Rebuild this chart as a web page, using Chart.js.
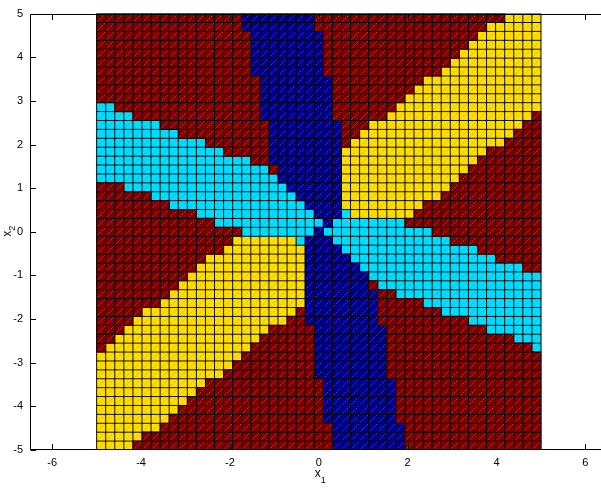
<!DOCTYPE html>
<html>
<head>
<meta charset="utf-8">
<script src="https://cdn.jsdelivr.net/npm/chart.js@4/dist/chart.umd.min.js"></script>
<style>
html,body{margin:0;padding:0;background:#fff;overflow:hidden;width:601px;height:488px;}
#wrap{position:relative;width:620px;height:488px;}
canvas{display:block;}
</style>
</head>
<body>
<div id="wrap"><canvas id="c" width="620" height="488"></canvas></div>
<script>
// ---- data ----
const classNames = ['R', 'B', 'C', 'Y'];            // dark red, navy, cyan, yellow
const classColors = ['#800000', '#00008f', '#00dfff', '#ffdf00'];
const xTickValues = [-6, -4, -2, 0, 2, 4, 6];
const yTickValues = [-5, -4, -3, -2, -1, 0, 1, 2, 3, 4, 5];
const gridLimits = [-5, 5];
const cellsPerSide = 49;
// class of each cell, row by row from the top (y = 5) down, as runs "<class><count>"
const rowRuns = [
  'R16 B8 R21 Y4',
  'R16 B8 R19 Y6',
  'R17 B8 R17 Y7',
  'R17 B8 R16 Y8',
  'R17 B8 R15 Y9',
  'R17 B8 R14 Y10',
  'R17 B8 R13 Y11',
  'R18 B8 R10 Y13',
  'R18 B8 R9 Y14',
  'R18 B8 R8 Y15',
  'C2 R16 B8 R7 Y16',
  'C4 R14 B8 R6 Y16 R1',
  'C7 R12 B8 R3 Y17 R2',
  'C9 R10 B8 R2 Y17 R3',
  'C12 R7 B8 R1 Y17 R4',
  'C14 R5 B8 Y16 R6',
  'C17 R2 B8 Y15 R7',
  'C19 R1 B7 Y14 R8',
  'C20 B7 Y13 R9',
  'R3 C18 B6 Y12 R10',
  'R6 C16 B5 Y11 R11',
  'R8 C15 B4 Y9 R13',
  'R11 C13 B3 C1 Y7 R14',
  'R13 C12 B1 C8 R15',
  'R16 C8 B1 C12 R12',
  'R15 Y7 C1 B3 C13 R10',
  'R14 Y9 B4 C15 R7',
  'R12 Y11 B5 C16 R5',
  'R11 Y12 B6 C18 R2',
  'R10 Y13 B7 C19',
  'R9 Y14 B7 R1 C18',
  'R8 Y15 B8 R2 C16',
  'R7 Y16 B8 R5 C13',
  'R5 Y17 R1 B8 R7 C11',
  'R4 Y17 R2 B8 R10 C8',
  'R3 Y16 R5 B8 R11 C6',
  'R2 Y16 R6 B8 R14 C3',
  'R1 Y16 R7 B8 R16 C1',
  'Y16 R8 B8 R17',
  'Y15 R9 B8 R17',
  'Y14 R10 B8 R17',
  'Y12 R13 B8 R16',
  'Y11 R14 B8 R16',
  'Y10 R15 B8 R16',
  'Y9 R16 B8 R16',
  'Y8 R17 B8 R16',
  'Y7 R19 B8 R15',
  'Y5 R21 B8 R15',
  'Y4 R22 B8 R15'
];

// ---- build cell table ----
const step = (gridLimits[1] - gridLimits[0]) / cellsPerSide;
const cellGrid = rowRuns.map(r => {
  const row = [];
  r.trim().split(/\s+/).forEach(tok => {
    const cls = tok[0], n = parseInt(tok.slice(1), 10);
    for (let k = 0; k < n; k++) row.push(cls);
  });
  return row;
});
const edgeX = i => gridLimits[0] + i * step;
const edgeY = j => gridLimits[1] - j * step;

const cellRadius = ctx => {
  const s = ctx.chart.scales.x;
  const px = Math.abs(s.getPixelForValue(step) - s.getPixelForValue(0));
  return (px / 2 + 0.5) / Math.SQRT1_2;
};

const datasets = classNames.map((cls, ci) => {
  const pts = [];
  cellGrid.forEach((row, j) => row.forEach((c, i) => {
    if (c === cls) pts.push({ x: edgeX(i) + step / 2, y: edgeY(j) - step / 2 });
  }));
  return {
    label: cls,
    data: pts,
    backgroundColor: classColors[ci],
    borderWidth: 0,
    pointStyle: 'rect',
    pointRadius: cellRadius,
    pointHoverRadius: cellRadius,
    showLine: false
  };
});

const diagColors = {
  R: 'rgba(255,140,140,0.55)',
  B: 'rgba(140,140,255,0.55)',
  C: 'rgba(0,60,80,0.25)',
  Y: 'rgba(90,60,0,0.25)'
};

const FONT = '"Liberation Sans", Arial, Helvetica, sans-serif';

const bgPlugin = {
  id: 'bg',
  beforeDraw(chart) {
    const ctx = chart.ctx;
    ctx.save();
    ctx.fillStyle = '#fff';
    ctx.fillRect(0, 0, chart.width, chart.height);
    ctx.restore();
  }
};

const meshPlugin = {
  id: 'mesh',
  afterDatasetsDraw(chart) {
    const { ctx, chartArea: a, scales: { x, y } } = chart;
    ctx.save();
    ctx.beginPath();
    ctx.rect(a.left, a.top, a.right - a.left, a.bottom - a.top);
    ctx.clip();
    ctx.lineWidth = 1;
    // diagonals "/" in every cell
    ctx.setLineDash([1.4, 1.2]);
    classNames.forEach(cls => {
      ctx.strokeStyle = diagColors[cls];
      ctx.beginPath();
      cellGrid.forEach((row, j) => row.forEach((c, i) => {
        if (c !== cls) return;
        ctx.moveTo(x.getPixelForValue(edgeX(i)), y.getPixelForValue(edgeY(j + 1)));
        ctx.lineTo(x.getPixelForValue(edgeX(i + 1)), y.getPixelForValue(edgeY(j)));
      }));
      ctx.stroke();
    });
    ctx.setLineDash([]);
    // cell edges
    ctx.strokeStyle = 'rgba(0,0,0,0.92)';
    ctx.beginPath();
    const yt = y.getPixelForValue(gridLimits[1]), yb = y.getPixelForValue(gridLimits[0]);
    const xl = x.getPixelForValue(gridLimits[0]), xr = x.getPixelForValue(gridLimits[1]);
    for (let i = 0; i <= cellsPerSide; i++) {
      const px = x.getPixelForValue(edgeX(i));
      ctx.moveTo(px, yt); ctx.lineTo(px, yb);
      const py = y.getPixelForValue(edgeY(i));
      ctx.moveTo(xl, py); ctx.lineTo(xr, py);
    }
    ctx.stroke();
    ctx.restore();
  },
  afterDraw(chart) {
    const { ctx, chartArea: a, scales: { x, y } } = chart;
    ctx.save();
    ctx.strokeStyle = '#000';
    ctx.lineWidth = 1;
    const L = Math.round(a.left) + 0.5, R = Math.round(a.right) + 0.5;
    const T = Math.round(a.top) + 0.5, B = Math.round(a.bottom) - 0.5;
    ctx.beginPath();
    ctx.rect(L, T, R - L, B - T);
    const tl = 5.5;
    xTickValues.forEach(v => {
      const px = Math.round(x.getPixelForValue(v)) + 0.5;
      ctx.moveTo(px, B); ctx.lineTo(px, B - tl);
      ctx.moveTo(px, T); ctx.lineTo(px, T + tl);
    });
    yTickValues.forEach(v => {
      const py = Math.round(y.getPixelForValue(v)) + 0.5;
      ctx.moveTo(L, py); ctx.lineTo(L + tl, py);
      ctx.moveTo(R, py); ctx.lineTo(R - tl, py);
    });
    ctx.stroke();
    // axis labels x1, x2
    ctx.fillStyle = '#000';
    ctx.textBaseline = 'alphabetic';
    ctx.textAlign = 'left';
    const cx = (a.left + a.right) / 2;
    ctx.font = '12px ' + FONT;
    ctx.fillText('x', cx - 4, 477);
    ctx.font = '9px ' + FONT;
    ctx.fillText('1', cx + 2, 483);
    ctx.save();
    ctx.translate(11, (a.top + a.bottom) / 2 + 1);
    ctx.rotate(-Math.PI / 2);
    ctx.font = '12px ' + FONT;
    ctx.fillText('x', -4, 0);
    ctx.font = '9px ' + FONT;
    ctx.fillText('2', 2, 4);
    ctx.restore();
    ctx.restore();
  }
};

new Chart(document.getElementById('c'), {
  type: 'scatter',
  data: { datasets },
  options: {
    responsive: false,
    animation: false,
    events: [],
    layout: { padding: { top: 5, right: 12.4, left: 0, bottom: 0 } },
    plugins: { legend: { display: false }, tooltip: { enabled: false }, title: { display: false } },
    scales: {
      x: {
        type: 'linear', min: -6.5, max: 6.5,
        afterBuildTicks: s => { s.ticks = xTickValues.map(v => ({ value: v })); },
        afterFit: s => { s.height = 38; },
        grid: { display: false, drawTicks: false },
        border: { display: false },
        ticks: { color: '#000', padding: 6, font: { family: FONT, size: 11 }, maxRotation: 0, autoSkip: false }
      },
      y: {
        type: 'linear', min: -5, max: 5,
        afterBuildTicks: s => { s.ticks = yTickValues.map(v => ({ value: v })); },
        afterFit: s => { s.width = 30; },
        grid: { display: false, drawTicks: false },
        border: { display: false },
        ticks: { color: '#000', padding: 7, font: { family: FONT, size: 11 }, autoSkip: false }
      }
    }
  },
  plugins: [bgPlugin, meshPlugin]
});
</script>
</body>
</html>
